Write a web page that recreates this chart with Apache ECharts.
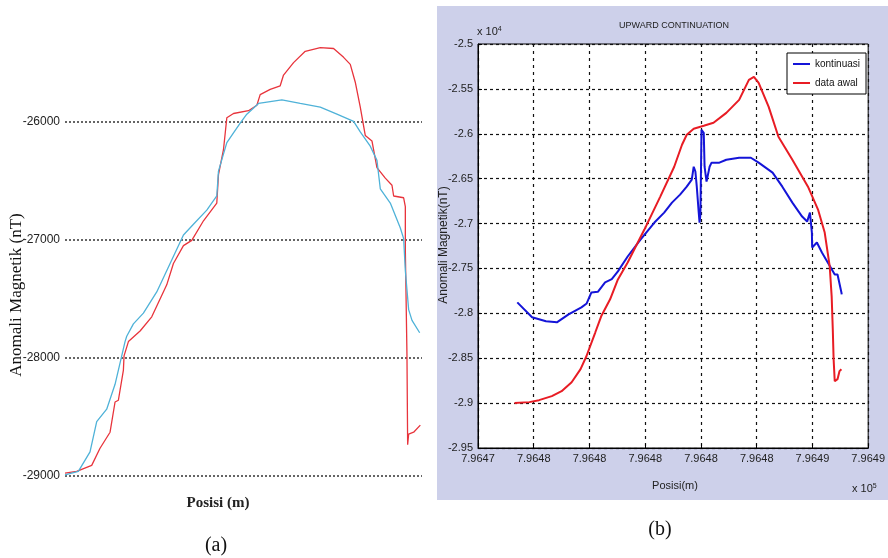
<!DOCTYPE html>
<html><head><meta charset="utf-8">
<script src="https://cdn.jsdelivr.net/npm/echarts@6/dist/echarts.min.js"></script>
<style>html,body{margin:0;padding:0;background:#fff}#c{width:888px;height:558px}</style>
</head><body><div id="c"></div>
<script>
// ---------- Panel (a) ----------
const aRedX = [0, 3.27, 7.48, 9.81, 12.62, 14.02, 14.95, 16.36, 16.54, 17.76, 21.03, 24.30, 28.50, 30.37, 33.18, 35.51, 38.79, 42.52, 42.99, 44.39, 45.33, 47.20, 51.40, 53.74, 54.67, 57.48, 60.28, 61.21, 64.02, 67.29, 71.50, 75.23, 78.04, 79.91, 81.31, 82.71, 84.11, 85.98, 87.38, 89.72, 91.59, 92.06, 94.86, 95.33, 95.33, 95.79, 95.98, 96.26, 97.66, 99.53];
const aRedY = [-28976, -28961, -28910, -28765, -28629, -28373, -28358, -28102, -27982, -27861, -27771, -27651, -27380, -27199, -27048, -27003, -26837, -26687, -26446, -26235, -25964, -25928, -25904, -25858, -25768, -25723, -25693, -25602, -25497, -25401, -25370, -25377, -25452, -25512, -25663, -25873, -26114, -26160, -26386, -26476, -26536, -26627, -26642, -26717, -27078, -27982, -28735, -28645, -28629, -28569];
const aCyanX = [0, 3.74, 7.01, 8.88, 11.68, 14.02, 16.82, 17.29, 19.16, 21.96, 25.70, 29.44, 33.18, 35.98, 39.72, 42.52, 42.99, 45.33, 49.07, 50.93, 54.21, 60.75, 65.89, 71.50, 76.17, 80.84, 82.71, 85.51, 87.38, 88.32, 91.12, 93.93, 94.86, 95.33, 96.26, 97.20, 99.35];
const aCyanY = [-28991, -28961, -28795, -28539, -28434, -28223, -27861, -27816, -27711, -27620, -27440, -27199, -26958, -26867, -26747, -26627, -26416, -26175, -26009, -25934, -25843, -25813, -25843, -25874, -25934, -25994, -26084, -26205, -26325, -26566, -26687, -26898, -26988, -27259, -27590, -27681, -27786];

// ---------- Panel (b) ----------
const bBlueX = [796475.41, 796475.94, 796476.44, 796476.83, 796477.25, 796477.71, 796477.90, 796478.07, 796478.30, 796478.56, 796478.80, 796479.02, 796479.37, 796479.83, 796480.33, 796480.68, 796480.96, 796481.25, 796481.49, 796481.67, 796481.74, 796481.80, 796481.85, 796481.92, 796481.95, 796481.98, 796482.02, 796482.10, 796482.13, 796482.20, 796482.31, 796482.38, 796482.66, 796482.91, 796483.37, 796483.79, 796484.07, 796484.57, 796484.92, 796485.28, 796485.63, 796485.81, 796485.91, 796485.98, 796485.99, 796486.16, 796486.34, 796486.55, 796486.80, 796486.90, 796487.04, 796487.05];
const bBlueY = [-27878, -28044, -28089, -28100, -28011, -27933, -27890, -27767, -27760, -27655, -27620, -27533, -27367, -27178, -26989, -26878, -26767, -26678, -26589, -26511, -26367, -26420, -26589, -26878, -26989, -26900, -25956, -25989, -26367, -26533, -26367, -26322, -26322, -26289, -26267, -26267, -26322, -26433, -26589, -26767, -26922, -26978, -26878, -27100, -27267, -27211, -27322, -27433, -27567, -27567, -27767, -27789];
const bRedX = [796475.31, 796475.84, 796476.19, 796476.65, 796477.00, 796477.36, 796477.68, 796477.89, 796478.21, 796478.42, 796478.74, 796479.02, 796479.37, 796479.97, 796480.54, 796481.04, 796481.32, 796481.49, 796481.74, 796482.10, 796482.45, 796482.91, 796483.37, 796483.72, 796483.90, 796484.07, 796484.43, 796484.78, 796485.28, 796485.84, 796486.20, 796486.44, 796486.62, 796486.69, 796486.73, 796486.76, 796486.80, 796486.90, 796486.97, 796487.04];
const bRedY = [-29000, -28989, -28967, -28922, -28867, -28767, -28622, -28478, -28211, -28033, -27844, -27622, -27433, -27067, -26700, -26367, -26122, -26011, -25944, -25911, -25878, -25767, -25622, -25400, -25367, -25433, -25700, -26033, -26289, -26589, -26844, -27100, -27478, -27811, -28178, -28511, -28756, -28733, -28644, -28622];

const legendNames = ['kontinuasi', 'data awal'];

const zip = (xs, ys) => xs.map((x, i) => [x, ys[i]]);
const sans = '"Liberation Sans Narrow", "Liberation Sans", Arial, sans-serif';
const serif = '"Liberation Serif", "DejaVu Serif", serif';

const chart = echarts.init(document.getElementById('c'), null, {renderer: 'canvas'});
chart.setOption({
  backgroundColor: '#fff',
  animation: false,
  grid: [
    {left: 65, right: 466, top: 4, bottom: 82},
    {left: 478, right: 14, top: 44, bottom: 110, show: true, backgroundColor: '#fff', borderColor: '#000', borderWidth: 1}
  ],
  xAxis: [
    {gridIndex: 0, type: 'value', min: 0, max: 100, show: false},
    {gridIndex: 1, type: 'value', min: 796474, max: 796488, interval: 2,
     axisLine: {show: true, lineStyle: {color: '#000'}},
     axisTick: {show: true, inside: true, length: 4, lineStyle: {color: '#000'}},
     axisLabel: {color: '#222', fontSize: 11, fontFamily: sans, margin: 5,
       formatter: v => (v / 1e5).toFixed(4)},
     splitLine: {show: true, lineStyle: {color: '#111', type: [3, 4], width: 1.2}}}
  ],
  yAxis: [
    {gridIndex: 0, type: 'value', min: -29000, max: -25000, interval: 1000,
     axisLine: {show: false}, axisTick: {show: false},
     axisLabel: {color: '#222', fontSize: 12, fontFamily: sans, margin: 5, showMaxLabel: false,
       formatter: v => String(v)},
     splitLine: {show: true, showMaxLine: false, lineStyle: {color: '#333', type: [2, 2], width: 1.5}}},
    {gridIndex: 1, type: 'value', min: -29500, max: -25000, interval: 500,
     axisLine: {show: true, lineStyle: {color: '#000'}},
     axisTick: {show: true, inside: true, length: 4, lineStyle: {color: '#000'}},
     axisLabel: {color: '#222', fontSize: 11, fontFamily: sans, margin: 5,
       formatter: v => String(+(v / 1e4).toFixed(3))},
     splitLine: {show: true, lineStyle: {color: '#111', type: [3, 3], width: 1.2}}}
  ],
  legend: {
    data: legendNames, left: 787, top: 53, orient: 'vertical',
    icon: 'rect', itemWidth: 17, itemHeight: 2, itemGap: 9,
    padding: [6, 6, 6, 6], borderColor: '#000', borderWidth: 1, backgroundColor: '#fff',
    textStyle: {fontSize: 10, fontFamily: sans, color: '#111'}
  },
  series: [
    {name: 'a-red', type: 'line', xAxisIndex: 0, yAxisIndex: 0, showSymbol: false,
     data: zip(aRedX, aRedY), lineStyle: {color: '#e8343c', width: 1.3}, itemStyle: {color: '#e8343c'}},
    {name: 'a-cyan', type: 'line', xAxisIndex: 0, yAxisIndex: 0, showSymbol: false,
     data: zip(aCyanX, aCyanY), lineStyle: {color: '#4fb2d8', width: 1.3}, itemStyle: {color: '#4fb2d8'}},
    {name: legendNames[0], type: 'line', xAxisIndex: 1, yAxisIndex: 1, showSymbol: false,
     data: zip(bBlueX, bBlueY), lineStyle: {color: '#1414d8', width: 2}, itemStyle: {color: '#1414d8'}},
    {name: legendNames[1], type: 'line', xAxisIndex: 1, yAxisIndex: 1, showSymbol: false,
     data: zip(bRedX, bRedY), lineStyle: {color: '#e81c24', width: 2}, itemStyle: {color: '#e81c24'}}
  ],
  graphic: [
    {type: 'rect', z: -10, shape: {x: 437, y: 6, width: 451, height: 494}, style: {fill: '#cdd0ea'}},
    {type: 'text', x: 17, y: 295, rotation: Math.PI / 2,
     style: {text: 'Anomali Magnetik (nT)', font: '17px ' + serif, fill: '#111', align: 'center', verticalAlign: 'middle'}},
    {type: 'text', x: 218, y: 503,
     style: {text: 'Posisi (m)', font: 'bold 15px ' + serif, fill: '#222', align: 'center', verticalAlign: 'middle'}},
    {type: 'text', x: 216, y: 546,
     style: {text: '(a)', font: '20px ' + serif, fill: '#111', align: 'center', verticalAlign: 'middle'}},
    {type: 'text', x: 660, y: 530,
     style: {text: '(b)', font: '20px ' + serif, fill: '#111', align: 'center', verticalAlign: 'middle'}},
    {type: 'text', x: 674, y: 26,
     style: {text: 'UPWARD CONTINUATION', font: '9px ' + sans, fill: '#222', align: 'center', verticalAlign: 'middle'}},
    {type: 'text', x: 444, y: 245, rotation: Math.PI / 2,
     style: {text: 'Anomali Magnetik(nT)', font: '12px ' + sans, fill: '#222', align: 'center', verticalAlign: 'middle'}},
    {type: 'text', x: 675, y: 486,
     style: {text: 'Posisi(m)', font: '11px ' + sans, fill: '#222', align: 'center', verticalAlign: 'middle'}},
    {type: 'text', x: 852, y: 489,
     style: {text: 'x 10{s|5}', font: '11px ' + sans, fill: '#222', align: 'left', verticalAlign: 'middle',
       rich: {s: {fontSize: 7, fontFamily: sans, verticalAlign: 'top', padding: [0, 0, 6, 0]}}}},
    {type: 'text', x: 477, y: 32,
     style: {text: 'x 10{s|4}', font: '11px ' + sans, fill: '#222', align: 'left', verticalAlign: 'middle',
       rich: {s: {fontSize: 7, fontFamily: sans, verticalAlign: 'top', padding: [0, 0, 6, 0]}}}}
  ]
});
</script>
</body></html>
